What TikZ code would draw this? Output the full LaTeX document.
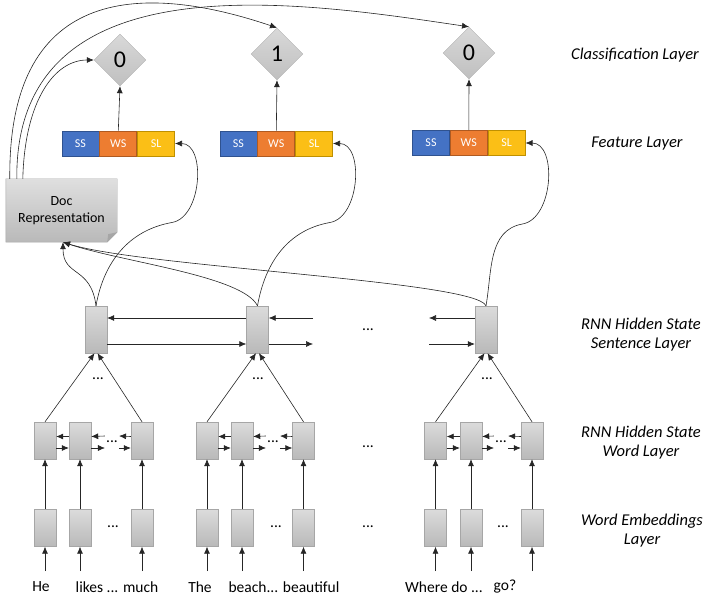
\documentclass[tikz,border=0pt]{standalone}
\usepackage{fontspec}
\setmainfont{Carlito}
\usepackage{tikz}
\usetikzlibrary{arrows.meta}
\usetikzlibrary{shapes,calc,positioning,backgrounds}

\definecolor{ssblue}{HTML}{4472C4}
\definecolor{ssdark}{HTML}{2F528F}
\definecolor{wsorange}{HTML}{ED7D31}
\definecolor{wsdark}{HTML}{AE5A21}
\definecolor{slgold}{HTML}{FBBF16}
\definecolor{sldark}{HTML}{BF9000}

\begin{document}
\begin{tikzpicture}[x=1pt,y=1pt]
\tikzstyle{etat}=[rectangle,draw=gray!70,top color=gray!28,bottom color=gray!55,
minimum width=22,minimum height=37,inner sep=0]
\tikzstyle{etatphrase}=[etat,minimum height=47]
\tikzstyle{classe}=[diamond,draw=gray!60,top color=gray!30,bottom color=gray!50,
minimum width=52,minimum height=52,inner sep=0,font=\fontsize{24}{24}\selectfont]
\tikzstyle{feat}=[rectangle,draw,line width=0.8pt,minimum width=37,minimum height=25,
inner sep=0,text=white,font=\fontsize{12}{12}\selectfont]
\tikzstyle{ss}=[feat,fill=ssblue,draw=ssdark]
\tikzstyle{ws}=[feat,fill=wsorange,draw=wsdark]
\tikzstyle{sl}=[feat,fill=slgold,draw=sldark]
\tikzstyle{docnode}=[minimum width=111,minimum height=63,inner sep=0,align=center,
font=\fontsize{14}{17}\selectfont]
\tikzstyle{mot}=[inner sep=1,font=\fontsize{15.5}{18}\selectfont]
\tikzstyle{points}=[inner sep=1,font=\fontsize{15.5}{18}\selectfont]
\tikzstyle{couche}=[align=center,font=\fontsize{16.5}{19}\selectfont\itshape]
\tikzstyle{fleche}=[-{Latex[length=7pt,width=6pt]},line width=0.6pt,draw=black!85]

\useasboundingbox (0,0) rectangle (703,-601);

% classification layer
\node[classe] (d1) at (120,-60) {0};
\node[classe] (d2) at (277,-54) {1};
\node[classe] (d3) at (469,-53) {0};

% feature layer
\node[ss] (ss1) at (80.5,-143.5) {SS};
\node[ws,right=0pt of ss1] (ws1) {WS};
\node[sl,right=0pt of ws1] (sl1) {SL};
\node[ss] (ss2) at (238.5,-143.5) {SS};
\node[ws,right=0pt of ss2] (ws2) {WS};
\node[sl,right=0pt of ws2] (sl2) {SL};
\node[ss] (ss3) at (431,-143) {SS};
\node[ws,right=0pt of ss3] (ws3) {WS};
\node[sl,right=0pt of ws3] (sl3) {SL};

% document
\node[docnode] (doc) at (61.5,-210.5) {Doc\\Representation};
\begin{scope}[on background layer]
\path[draw=gray!70,top color=gray!25,bottom color=gray!55] (doc.north west) -- (doc.north east)
  -- ([yshift=10]doc.south east) -- ([xshift=-10]doc.south east) -- (doc.south west) -- cycle;
\path[fill=gray!70] ([yshift=10]doc.south east) -- ([xshift=-10]doc.south east)
  -- ([xshift=-9,yshift=8]doc.south east) -- cycle;
\end{scope}

% sentence layer
\node[etatphrase] (h1) at (96,-329.5) {};
\node[etatphrase] (h2) at (257.5,-329.5) {};
\node[etatphrase] (h3) at (486,-329.5) {};
\coordinate (h2r) at (313,-329.5);
\coordinate (h3l) at (429,-329.5);
\node[points] (ph1) at (98,-379) {...};
\node[points] (ph2) at (258,-379) {...};
\node[points] (ph3) at (487,-379) {...};
\node[points] (pm1) at (368,-330) {...};

% word layer
\node[etat] (w11) at (45,-440.5) {};
\node[etat] (w12) at (80,-440.5) {};
\node[etat] (w13) at (142,-440.5) {};
\node[etat] (w21) at (207,-440.5) {};
\node[etat] (w22) at (242,-440.5) {};
\node[etat] (w23) at (303.5,-440.5) {};
\node[etat] (w31) at (435.5,-440.5) {};
\node[etat] (w32) at (471,-440.5) {};
\node[etat] (w33) at (532,-440.5) {};
\node[points] (pw1) at (112,-442) {...};
\node[points] (pw2) at (273,-442) {...};
\node[points] (pw3) at (501,-442) {...};
\node[points] (pm2) at (368,-447) {...};

% embeddings layer
\node[etat] (e11) at (45,-528) {};
\node[etat] (e12) at (80,-528) {};
\node[etat] (e13) at (142,-528) {};
\node[etat] (e21) at (207,-528) {};
\node[etat] (e22) at (242,-528) {};
\node[etat] (e23) at (303.5,-528) {};
\node[etat] (e31) at (435.5,-528) {};
\node[etat] (e32) at (471,-528) {};
\node[etat] (e33) at (532,-528) {};
\node[points] (pe1) at (113,-527) {...};
\node[points] (pe2) at (276,-527) {...};
\node[points] (pe3) at (503,-527) {...};
\node[points] (pm3) at (368,-527) {...};

% words
\coordinate (i11) at (45,-571);
\coordinate (i12) at (80,-571);
\coordinate (i13) at (142,-571);
\coordinate (i21) at (207,-571);
\coordinate (i22) at (242,-571);
\coordinate (i23) at (303.5,-571);
\coordinate (i31) at (435.5,-571);
\coordinate (i32) at (471,-571);
\coordinate (i33) at (532,-571);
\node[mot] (he) at (41,-587) {He};
\node[mot] (likes) at (117,-587) {likes ... much};
\node[mot] (the) at (200,-587) {The};
\node[mot] (beach) at (284,-587) {beach... beautiful};
\node[mot] (where) at (444,-587) {Where do ...};
\node[mot] (go) at (505,-587) {go?};

% layer names
\node[couche] (lclass) at (635,-55) {Classification Layer};
\node[couche] (lfeat) at (637,-144) {Feature Layer};
\node[couche] (lsent) at (641,-334.5) {RNN Hidden State\\Sentence Layer};
\node[couche] (lword) at (641,-442.5) {RNN Hidden State\\Word Layer};
\node[couche] (lemb) at (642,-530.5) {Word Embeddings\\Layer};

% inputs and embeddings
\draw[fleche] (i11) -- (e11.south);
\draw[fleche] (i12) -- (e12.south);
\draw[fleche] (i13) -- (e13.south);
\draw[fleche] (i21) -- (e21.south);
\draw[fleche] (i22) -- (e22.south);
\draw[fleche] (i23) -- (e23.south);
\draw[fleche] (i31) -- (e31.south);
\draw[fleche] (i32) -- (e32.south);
\draw[fleche] (i33) -- (e33.south);
\draw[fleche] (e11) -- (w11);
\draw[fleche] (e12) -- (w12);
\draw[fleche] (e13) -- (w13);
\draw[fleche] (e21) -- (w21);
\draw[fleche] (e22) -- (w22);
\draw[fleche] (e23) -- (w23);
\draw[fleche] (e31) -- (w31);
\draw[fleche] (e32) -- (w32);
\draw[fleche] (e33) -- (w33);

% word rnn
\draw[fleche] ([yshift=4]w12.west) -- ([yshift=4]w11.east);
\draw[fleche] ([yshift=-7.5]w11.east) -- ([yshift=-7.5]w12.west);
\draw[fleche] ([yshift=6]pw1.west) -- ([yshift=4]w12.east);
\draw[fleche] ([yshift=-7.5]w12.east) -- ([yshift=-6]pw1.west);
\draw[fleche] ([yshift=4]w13.west) -- ([yshift=6]pw1.east);
\draw[fleche] ([yshift=-6]pw1.east) -- ([yshift=-7.5]w13.west);
\draw[fleche] ([yshift=4]w22.west) -- ([yshift=4]w21.east);
\draw[fleche] ([yshift=-7.5]w21.east) -- ([yshift=-7.5]w22.west);
\draw[fleche] ([yshift=6]pw2.west) -- ([yshift=4]w22.east);
\draw[fleche] ([yshift=-7.5]w22.east) -- ([yshift=-6]pw2.west);
\draw[fleche] ([yshift=4]w23.west) -- ([yshift=6]pw2.east);
\draw[fleche] ([yshift=-6]pw2.east) -- ([yshift=-7.5]w23.west);
\draw[fleche] ([yshift=4]w32.west) -- ([yshift=4]w31.east);
\draw[fleche] ([yshift=-7.5]w31.east) -- ([yshift=-7.5]w32.west);
\draw[fleche] ([yshift=6]pw3.west) -- ([yshift=4]w32.east);
\draw[fleche] ([yshift=-7.5]w32.east) -- ([yshift=-6]pw3.west);
\draw[fleche] ([yshift=4]w33.west) -- ([yshift=6]pw3.east);
\draw[fleche] ([yshift=-6]pw3.east) -- ([yshift=-7.5]w33.west);

% words to sentences
\draw[fleche] (w11.north) -- ([xshift=-1.5]h1.south);
\draw[fleche] (w13.north) -- ([xshift=1.5]h1.south);
\draw[fleche] (w21.north) -- ([xshift=-1.5]h2.south);
\draw[fleche] (w23.north) -- ([xshift=1.5]h2.south);
\draw[fleche] (w31.north) -- ([xshift=-1.5]h3.south);
\draw[fleche] (w33.north) -- ([xshift=1.5]h3.south);

% sentence rnn
\draw[fleche] ([yshift=11.5]h2.west) -- ([yshift=11.5]h1.east);
\draw[fleche] ([yshift=-14.5]h1.east) -- ([yshift=-14.5]h2.west);
\draw[fleche] ([yshift=11.5]h2r) -- ([yshift=11.5]h2.east);
\draw[fleche] ([yshift=-14.5]h2.east) -- ([yshift=-14.5]h2r);
\draw[fleche] ([yshift=11.5]h3.west) -- ([yshift=11.5]h3l);
\draw[fleche] ([yshift=-14.5]h3l) -- ([yshift=-14.5]h3.west);

% sentences to document
\draw[fleche] (h1.north) .. controls +(-5,40) and +(0,-35) .. ([xshift=1.5]doc.south);
\draw[fleche] (h2.north) .. controls +(-15,30) and +(60,-20) .. ([xshift=1.5]doc.south);
\draw[fleche] (h3.north) .. controls +(-10,25) and +(80,-25) .. ([xshift=1.5]doc.south);

% sentences to features
\coordinate (b1) at ($(sl1.east)+(-3,-79)$);
\coordinate (b2) at ($(sl2.east)+(-3,-79)$);
\coordinate (b3) at ($(sl3.east)+(-3,-81)$);
\draw[fleche] (h1.north) to[out=80,in=190] (b1) to[out=10,in=0] (sl1.east);
\draw[fleche] (h2.north) to[out=80,in=190] (b2) to[out=10,in=0] (sl2.east);
\draw[fleche] (h3.north) to[out=80,in=190] (b3) to[out=10,in=0] (sl3.east);

% features to classes
\draw[fleche] (ws1.north) -- (d1.south);
\draw[fleche] (ws2.north) -- (d2.south);
\draw[fleche] (ws3.north) -- (d3.south);

% document to classes
\draw[fleche] ([xshift=17]doc.north west) .. controls +(2,79) and +(-39,0) .. (d1.west);
\draw[fleche] ([xshift=4]doc.north west) .. controls +(-2,199) and +(-127,43) .. (d2.north);
\draw[fleche] ([xshift=11]doc.north west) .. controls +(-2,222) and +(-169,25) .. (d3.north);

\end{tikzpicture}
\end{document}
